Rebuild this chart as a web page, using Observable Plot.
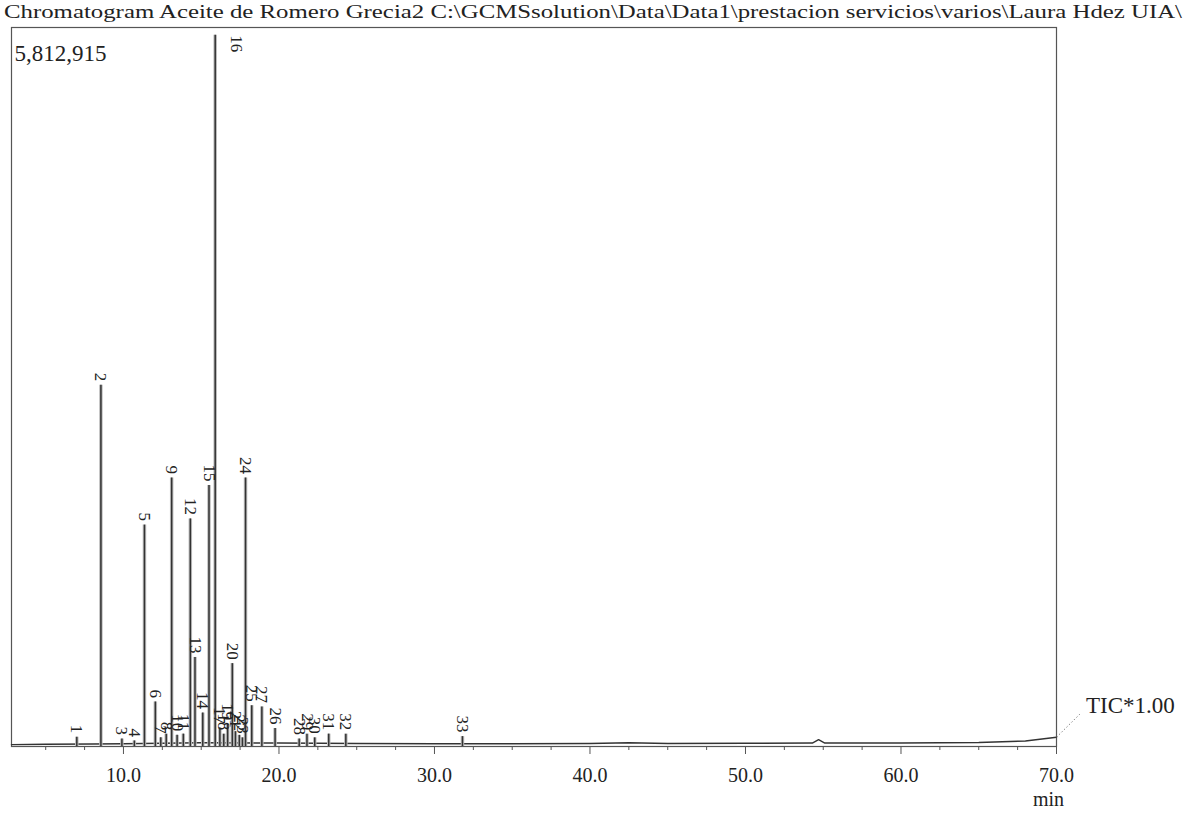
<!DOCTYPE html>
<html><head><meta charset="utf-8">
<script src="https://cdn.jsdelivr.net/npm/d3@7"></script>
<script src="https://cdn.jsdelivr.net/npm/@observablehq/plot@0.6"></script>
<style>
body{margin:0;background:#fff;}
#title{height:24px;line-height:24px;font-family:"Liberation Serif",serif;font-size:19px;white-space:nowrap;color:#222;padding-left:4px;overflow:visible;}
#title span{display:inline-block;transform-origin:0 50%;}
#chart svg{display:block;overflow:visible;}
</style></head><body>
<div id="title"><span id="t">Chromatogram Aceite de Romero Grecia2 C:\GCMSsolution\Data\Data1\prestacion servicios\varios\Laura Hdez UIA\</span></div>
<div id="chart"></div>
<script>
// ---- data ----
const maxIntensity = 5812915;
const peakNumbers = ["1","2","3","4","5","6","7","8","9","10","11","12","13","14","15","16","17","18","19","20","21","22","23","24","25","27","26","28","29","30","31","32","33"];
const peakTimes   = [7.0, 8.55, 9.9, 10.7, 11.35, 12.05, 12.4, 12.75, 13.1, 13.45, 13.85, 14.3, 14.6, 15.1, 15.5, 15.9, 16.2, 16.45, 16.7, 17.0, 17.2, 17.45, 17.65, 17.85, 18.25, 18.9, 19.75, 21.3, 21.8, 22.3, 23.2, 24.3, 31.8];
const peakHeights = [75000, 2920000, 60000, 45000, 1790000, 360000, 70000, 100000, 2170000, 90000, 100000, 1840000, 720000, 270000, 2110000, 5750000, 150000, 100000, 180000, 670000, 120000, 90000, 70000, 2170000, 330000, 320000, 145000, 60000, 100000, 70000, 100000, 100000, 80000];
const baselineTimes  = [2.8, 5, 8, 10, 15, 20, 25, 30, 35, 40, 42.5, 45, 50, 54.3, 54.7, 55.1, 60, 65, 68, 70];
const baselineValues = [15000, 18000, 20000, 22000, 30000, 28000, 24000, 22000, 22000, 24000, 30000, 24000, 26000, 28000, 55000, 28000, 28000, 32000, 45000, 75000];
const xTicks = [10, 20, 30, 40, 50, 60, 70];
const xMinorTicks = [5, 7.5, 12.5, 15, 17.5, 22.5, 25, 27.5, 32.5, 35, 37.5, 42.5, 45, 47.5, 52.5, 55, 57.5, 62.5, 65, 67.5];
const maxLabel = "5,812,915";
const traceLabel = "TIC*1.00";
const xUnit = "min";

// ---- build tables ----
const peaks = peakNumbers.map((n, i) => ({n, t: peakTimes[i], h: peakHeights[i]}));
const baseline = baselineTimes.map((t, i) => ({t, v: baselineValues[i]}));
const tallPeaks = peaks.filter(d => d.h >= 0.9 * maxIntensity);
const otherPeaks = peaks.filter(d => d.h < 0.9 * maxIntensity);
const tEnd = baselineTimes[baselineTimes.length - 1];
const vEnd = baselineValues[baselineValues.length - 1];
const ticLink = [{x1: tEnd, y1: vEnd, x2: tEnd + 1.5, y2: 0.045 * maxIntensity}];
const ticText = [{x: tEnd + 1.9, y: 0.057 * maxIntensity, s: traceLabel}];

const serif = "Liberation Serif, Times New Roman, serif";
const ink = "#222";

const chart = Plot.plot({
  width: 1186,
  height: 793,
  marginTop: 3,
  marginBottom: 71,
  marginLeft: 11,
  marginRight: 130,
  style: {fontFamily: serif, fontSize: "19px", color: ink, background: "#fff", overflow: "visible"},
  x: {domain: [2.8, 70]},
  y: {domain: [0, maxIntensity], axis: null},
  marks: [
    Plot.frame({stroke: "#555", strokeWidth: 1.2}),
    Plot.axisX({ticks: xMinorTicks, tickSize: 4, tickFormat: () => "", label: null, stroke: "#555"}),
    Plot.axisX({ticks: xTicks, tickSize: 8, tickPadding: 13, tickFormat: d => d.toFixed(1), label: null, stroke: "#555", fontSize: 20, fill: ink}),
    Plot.line(baseline, {x: "t", y: "v", stroke: "#333", strokeWidth: 1.4}),
    Plot.ruleX(peaks, {x: "t", y1: 0, y2: "h", stroke: "#bbb", strokeWidth: 3.5}),
    Plot.ruleX(peaks, {x: "t", y1: 0, y2: "h", stroke: "#333", strokeWidth: 1.5}),
    Plot.text(otherPeaks, {x: "t", y: "h", text: "n", rotate: 90, textAnchor: "end", lineAnchor: "middle", dy: -4, fontSize: 17, fill: ink}),
    Plot.text(tallPeaks, {x: "t", y: "h", text: "n", rotate: 90, textAnchor: "start", lineAnchor: "middle", dx: 21, fontSize: 17, fill: ink}),
    Plot.text([maxLabel], {frameAnchor: "top-left", text: d => d, textAnchor: "start", dx: 3, dy: 17, fontSize: 23, fill: ink}),
    Plot.link(ticLink, {x1: "x1", y1: "y1", x2: "x2", y2: "y2", stroke: "#888", strokeDasharray: "1.5,2", strokeWidth: 1}),
    Plot.text(ticText, {x: "x", y: "y", text: "s", textAnchor: "start", fontSize: 23, fill: ink}),
    Plot.text([xUnit], {frameAnchor: "bottom-right", text: d => d, textAnchor: "middle", dx: -8, dy: 59, fontSize: 20, fill: ink})
  ]
});
document.getElementById("chart").appendChild(chart);

const span = document.getElementById("t");
const w = span.getBoundingClientRect().width;
span.style.transform = `scaleX(${1178 / w})`;
</script>
</body></html>
